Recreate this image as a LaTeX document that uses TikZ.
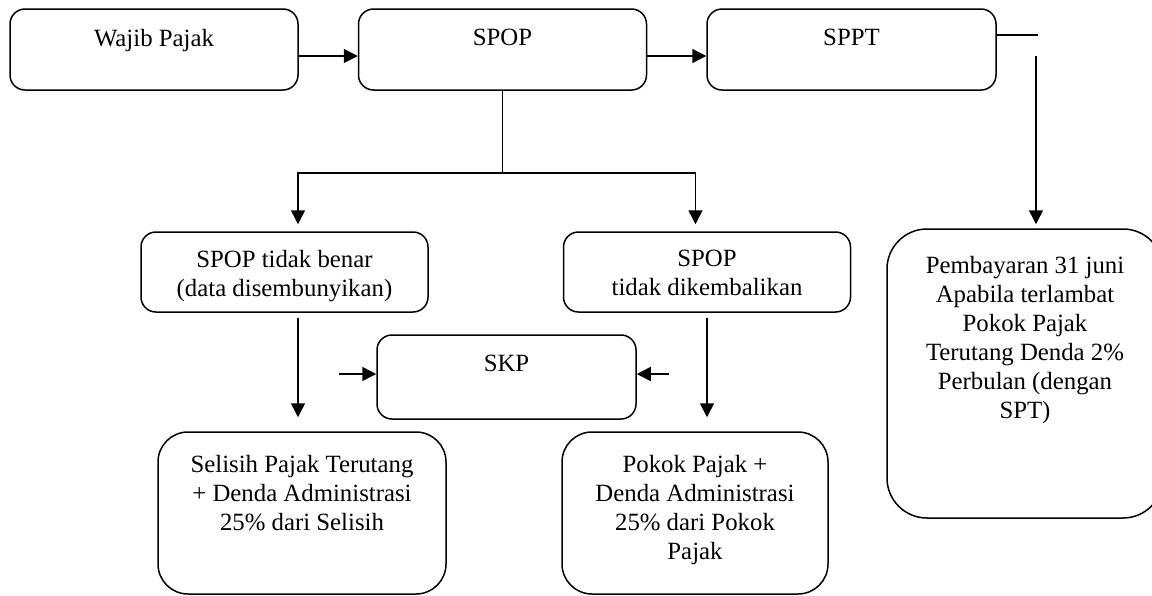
\documentclass[tikz,border=0pt]{standalone}
\usepackage{fontspec}
\setmainfont{Liberation Serif}
\usetikzlibrary{arrows.meta,positioning}

\begin{document}
\begin{tikzpicture}[x=1pt, y=-1pt, line width=1.5pt,
  box/.style={draw, rounded corners=15pt, inner sep=0pt},
  txt/.style={font=\fontsize{24.8}{29}\selectfont, align=center, inner sep=0pt},
  arr/.style={-{Triangle[length=14pt,width=14pt]}}]
\useasboundingbox (0,0) rectangle (1152,595);

\node[box, minimum width=288pt, minimum height=81pt] (wp) at (154,49.5) {};
\node[box, minimum width=288pt, minimum height=81pt, right=59pt of wp] (spop) {};
\node[box, minimum width=289pt, minimum height=81pt, right=59pt of spop] (sppt) {};
\node[box, minimum width=287pt, minimum height=80pt] (benar) at (284.5,272) {};
\node[box, minimum width=287pt, minimum height=80pt, right=134pt of benar] (kemb) {};
\node[box, minimum width=259pt, minimum height=84pt] (skp) at (506.5,377) {};
\node[box, rounded corners=30pt, minimum width=288pt, minimum height=162pt] (sel) at (302,513) {};
\node[box, rounded corners=30pt, minimum width=266pt, minimum height=162pt] (pok) at (695,513) {};
\node[box, rounded corners=40pt, minimum width=276pt, minimum height=289pt] (pay) at (1025,373.5) {};

\node[txt, below=20pt of wp.north] (wp-t) {Wajib Pajak};
\node[txt, below=20pt of spop.north] (spop-t) {SPOP};
\node[txt, below=20pt of sppt.north] (sppt-t) {SPPT};
\node[txt, below=18pt of benar.north] (benar-t) {SPOP tidak benar\\(data disembunyikan)};
\node[txt, below=18pt of kemb.north] (kemb-t) {SPOP\\tidak dikembalikan};
\node[txt, below=20.5pt of skp.north] (skp-t) {SKP};
\node[txt, below=23.5pt of sel.north] (sel-t) {Selisih Pajak Terutang\\+ Denda Administrasi\\25\% dari Selisih};
\node[txt, below=23pt of pok.north] (pok-t) {Pokok Pajak +\\Denda Administrasi\\25\% dari Pokok\\Pajak};
\node[txt, below=27pt of pay.north] (pay-t) {Pembayaran 31 juni\\Apabila terlambat\\Pokok Pajak\\Terutang Denda 2\%\\Perbulan (dengan\\SPT)};

\coordinate (split) at ([yshift=-82pt]spop.south);
\coordinate (stub) at (1038,35);
\coordinate (drop) at (1036,56);
\coordinate (skp-l) at (339,374);
\coordinate (skp-r) at (669,374);

\draw[arr] ([yshift=-6.5pt]wp.east) -- ([yshift=-6.5pt]spop.west);
\draw[arr] ([yshift=-6.5pt]spop.east) -- ([yshift=-6.5pt]sppt.west);
\draw ([yshift=14.5pt]sppt.east) -- (stub);
\draw[arr, shorten >=4pt] (drop) -- (drop |- pay.north);
\draw (spop.south) -- (split);
\draw[arr, shorten >=7pt] (split) -| ([xshift=13.5pt]benar.north);
\draw[arr, shorten >=7pt] (split) -| ([xshift=-11.5pt]kemb.north);
\draw[arr, shorten <=5pt, shorten >=14pt] ([xshift=13.5pt]benar.south) -- ([xshift=13.5pt]benar.south |- sel.north);
\draw[arr, shorten <=5pt, shorten >=14pt] (kemb.south) -- (kemb.south |- pok.north);
\draw[arr] (skp-l) -- (skp-l -| skp.west);
\draw[arr] (skp-r) -- (skp-r -| skp.east);
\end{tikzpicture}
\end{document}
